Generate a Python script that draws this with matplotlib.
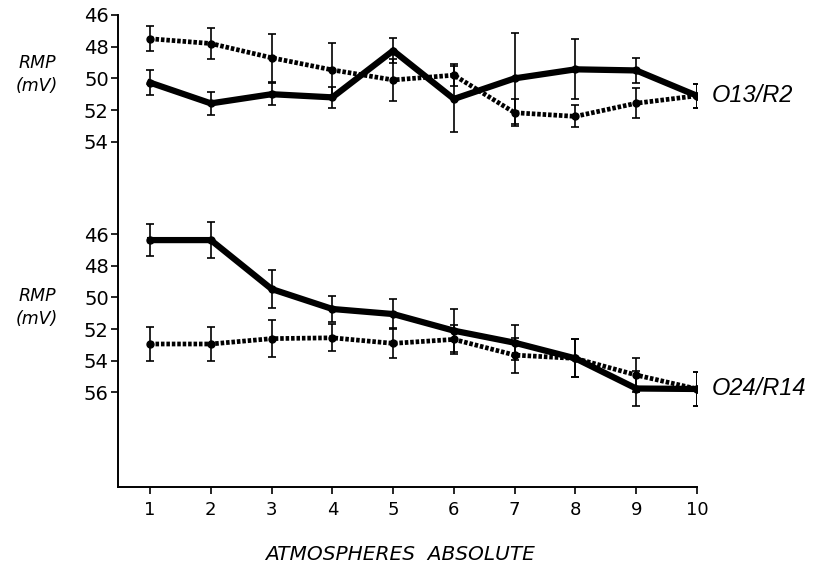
import matplotlib
matplotlib.use("Agg")
import matplotlib.pyplot as plt
import numpy as np

# Atmospheres absolute
atm = [1, 2, 3, 4, 5, 6, 7, 8, 9, 10]

# Preparation O13/R2 : resting membrane potential (mV) and error
r2_solid = [50.27, 51.58, 51.0, 51.2, 48.25, 51.3, 50.0, 49.43, 49.5, 51.1]
r2_solid_err = [0.8, 0.73, 0.7, 0.65, 0.8, 2.1, 2.85, 1.9, 0.8, 0.75]
r2_dotted = [47.5, 47.8, 48.7, 49.47, 50.1, 49.8, 52.17, 52.4, 51.57, 51.1]
r2_dotted_err = [0.78, 1.0, 1.5, 1.72, 1.35, 0.7, 0.85, 0.7, 0.95, 0.75]

# Preparation O24/R14
r14_solid = [46.38, 46.38, 49.47, 50.73, 51.05, 52.1, 52.86, 53.85, 55.75, 55.78]
r14_solid_err = [1.0, 1.15, 1.2, 0.85, 0.95, 1.37, 1.1, 1.2, 1.08, 1.1]
r14_dotted = [52.94, 52.94, 52.6, 52.55, 52.9, 52.65, 53.64, 53.85, 54.9, 55.78]
r14_dotted_err = [1.05, 1.1, 1.15, 0.85, 0.95, 0.93, 1.1, 1.2, 1.05, 1.1]

upper_ticks = [46, 48, 50, 52, 54]
lower_ticks = [46, 48, 50, 52, 54, 56]
x_ticks = atm

# vertical shift (in mV units) of the lower panel on the shared axis
LOWER_SHIFT = 13.83

fig = plt.figure(figsize=(8.23, 5.66), dpi=100)
ax = fig.add_axes([118.5 / 823, 1 - 487 / 566, (697 - 118.5) / 823, (487 - 15) / 566])

font = "DejaVu Sans"
lfont = "Liberation Sans"

def draw(y, err, shift, dotted):
    y = np.asarray(y) + shift
    if dotted:
        ax.plot(atm, y, color="black", lw=3.4, linestyle=(0, (0.75, 0.4)),
                solid_capstyle="butt", dash_capstyle="butt", zorder=3)
    else:
        ax.plot(atm, y, color="black", lw=4.5, solid_joinstyle="miter", zorder=3)
    ax.errorbar(atm, y, yerr=err, fmt="o", color="black", ms=5,
                elinewidth=1.2, capsize=3.2, capthick=1.2, zorder=4)

draw(r2_solid, r2_solid_err, 0, False)
draw(r2_dotted, r2_dotted_err, 0, True)
draw(r14_solid, r14_solid_err, LOWER_SHIFT, False)
draw(r14_dotted, r14_dotted_err, LOWER_SHIFT, True)

ymin = 46
ymax = 46 + (487 - 15) / 15.84
ax.set_ylim(ymax, ymin)
ax.set_xlim(0.48, 10)

yt = list(upper_ticks) + [t + LOWER_SHIFT for t in lower_ticks]
ylab = [str(t) for t in upper_ticks] + [str(t) for t in lower_ticks]
ax.set_yticks(yt)
ax.set_yticklabels(ylab, fontfamily=font, fontsize=14)
ax.set_xticks(x_ticks)
ax.set_xticklabels([str(t) for t in x_ticks], fontfamily=font, fontsize=13)

for s in ["top", "right"]:
    ax.spines[s].set_visible(False)
for s in ["left", "bottom"]:
    ax.spines[s].set_linewidth(1.4)
ax.tick_params(axis="y", direction="out", length=5, width=1.2, pad=2)
ax.tick_params(axis="x", direction="out", length=5, width=1.2, pad=5)

# side labels
for yc in (74, 307):
    fig.text(37 / 823, 1 - (yc - 11) / 566, "RMP", fontfamily=font, style="italic",
             fontsize=12.5, ha="center", va="center")
    fig.text(37 / 823, 1 - (yc + 12) / 566, "(mV)", fontfamily=font, style="italic",
             fontsize=12.5, ha="center", va="center")

ax.text(10.25, r2_solid[-1], "O13/R2", fontfamily=lfont, style="italic",
        fontsize=17, ha="left", va="center", clip_on=False)
ax.text(10.25, r14_solid[-1] + LOWER_SHIFT, "O24/R14", fontfamily=lfont, style="italic",
        fontsize=17, ha="left", va="center", clip_on=False)

fig.text(400 / 823, 1 - 554 / 566, "ATMOSPHERES  ABSOLUTE", fontfamily=font,
         style="italic", fontsize=14.5, ha="center", va="center")

fig.savefig("out.png", dpi=100)
